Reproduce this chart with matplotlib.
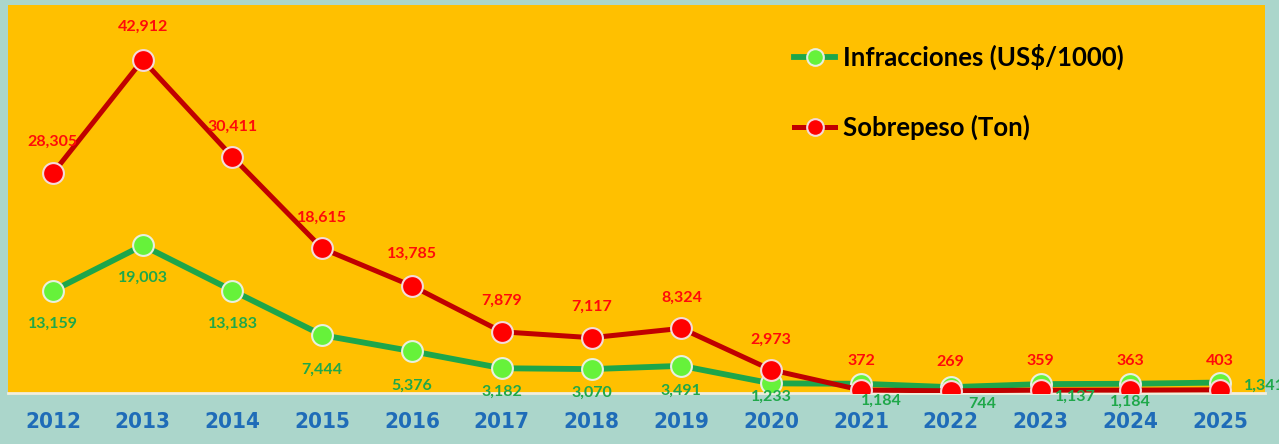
import numpy as np
import matplotlib
matplotlib.use("Agg")
import matplotlib.pyplot as plt

# data
years = ["2012", "2013", "2014", "2015", "2016", "2017", "2018",
         "2019", "2020", "2021", "2022", "2023", "2024", "2025"]
infracciones = [13159, 19003, 13183, 7444, 5376, 3182, 3070,
                3491, 1233, 1184, 744, 1137, 1184, 1341]
sobrepeso = [28305, 42912, 30411, 18615, 13785, 7879, 7117,
             8324, 2973, 372, 269, 359, 363, 403]

# label offsets (points), tuned by eye
green_off = [(0, -24), (0, -23), (0, -24), (0, -25), (0, -25), (0, -17), (0, -17),
             (0, -18), (0, -10), (15, -12), (23, -12), (25, -9), (0, -13), (32, -2)]
red_off = [(0, 23), (0, 24), (0, 22), (0, 22), (0, 23), (0, 22), (0, 22),
           (0, 22), (0, 22), (0, 21), (0, 21), (0, 21), (0, 21), (0, 21)]

bg = "#ABD6CB"
plot_bg = "#FFC000"
txt_font = ["Lato", "DejaVu Sans"]

fig = plt.figure(figsize=(12.79, 4.44), dpi=100, facecolor=bg)
ax = fig.add_axes([0.00625, 0.115, 0.9828, 0.874])
ax.set_facecolor(plot_bg)

x = np.arange(len(years))
ax.plot(x, infracciones, color="#1DA64A", lw=4.2, marker="o", ms=15,
        mfc="#66F23A", mec="#E8F0E0", mew=1.5, zorder=3,
        label="Infracciones (US$/1000)")
ax.plot(x, sobrepeso, color="#C00000", lw=3.6, marker="o", ms=15,
        mfc="#FF0000", mec="#F4DADA", mew=1.5, zorder=4,
        label="Sobrepeso (Ton)")

for i in range(len(years)):
    ax.annotate(f"{infracciones[i]:,}", (x[i], infracciones[i]),
                xytext=green_off[i], textcoords="offset points",
                ha="center", va="center", color="#1FA84A", fontsize=11.5,
                fontweight="bold", family=txt_font, zorder=5)
    ax.annotate(f"{sobrepeso[i]:,}", (x[i], sobrepeso[i]),
                xytext=red_off[i], textcoords="offset points",
                ha="center", va="center", color="#FF0A0A", fontsize=11.5,
                fontweight="bold", family=txt_font, zorder=5)

ax.set_xlim(-0.5, 13.5)
ax.set_ylim(0, 50000)
ax.set_xticks(x)
ax.set_xticklabels(years, color="#1F6CB8", fontsize=16, fontweight="bold",
                   fontstretch="condensed", family=["DejaVu Sans"])
ax.tick_params(axis="x", length=0, pad=14)
ax.set_yticks([])
for s in ["top", "left", "right"]:
    ax.spines[s].set_visible(False)
ax.spines["bottom"].set_color("#F2EEDC")
ax.spines["bottom"].set_linewidth(2)

leg = ax.legend(loc="upper left", bbox_to_anchor=(0.607, 0.96), frameon=False,
                prop={"family": txt_font, "weight": "bold", "size": 18.5},
                labelspacing=1.75, handlelength=1.6, handletextpad=0.3,
                markerscale=0.8)

fig.savefig("out.png", dpi=100, facecolor=bg)
